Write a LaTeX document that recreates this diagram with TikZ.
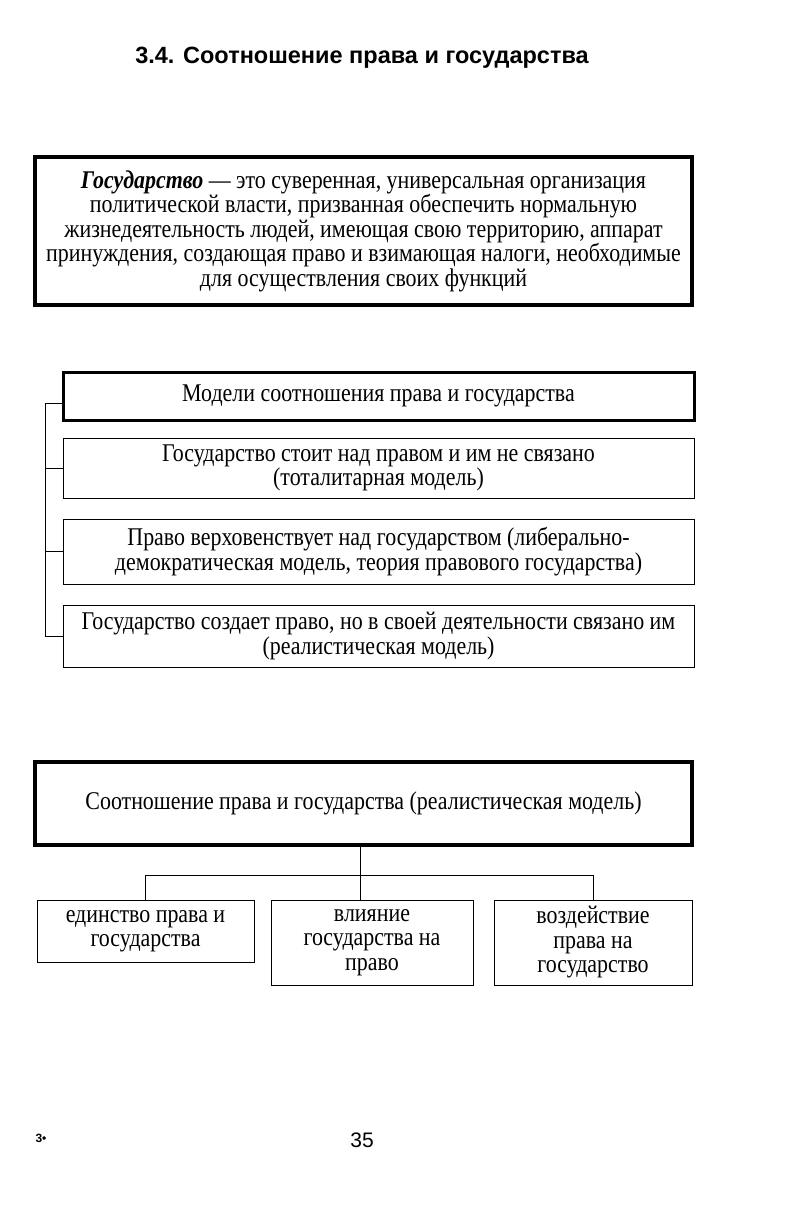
\documentclass[tikz,border=0pt]{standalone}
\usepackage{fontspec}
\setmainfont{Liberation Serif}[FakeStretch=0.86]
\setsansfont{Liberation Sans}
\usetikzlibrary{positioning, calc}

\begin{document}
\begin{tikzpicture}[
  x=1pt, y=-1pt,
  bigbox/.style={rectangle, draw, line width=3.5pt, align=center, inner sep=0pt},
  smallbox/.style={rectangle, draw, line width=0.9pt, align=center, inner sep=0pt},
  link/.style={draw, line width=0.9pt},
  txt/.style={font=\fontsize{25.5}{24.5}\selectfont}
]
\useasboundingbox (0,0) rectangle (790,1225);

% Heading
\node[font=\sffamily\bfseries\fontsize{23.5}{26}\selectfont] (title) at (362,58) {3.4. Соотношение права и государства};

% Definition
\node[bigbox, txt, minimum width=657pt, minimum height=148pt] (def) at (363.5,231)
  {\textbf{\textit{Государство}} — это суверенная, универсальная организация\\
   политической власти, призванная обеспечить нормальную\\
   жизнедеятельность людей, имеющая свою территорию, аппарат\\
   принуждения, создающая право и взимающая налоги, необходимые\\
   для осуществления своих функций};

% Models
\node[bigbox, line width=3pt, txt, minimum width=631pt, minimum height=48pt] (models) at (378.5,396)
  {Модели соотношения права и государства};
\node[smallbox, txt, minimum width=631pt, minimum height=60pt] (total) at (378.5,468)
  {Государство стоит над правом и им не связано\\(тоталитарная модель)};
\node[smallbox, txt, minimum width=631pt, minimum height=65pt] (liberal) at (378.5,551.5)
  {Право верховенствует над государством (либерально-\\демократическая модель, теория правового государства)};
\node[smallbox, txt, minimum width=631pt, minimum height=62pt] (real) at (378.5,636)
  {Государство создает право, но в своей деятельности связано им\\(реалистическая модель)};

\coordinate (rail) at (45,403);
\draw[link] (models.west |- rail) -- (rail) |- (real.west);
\draw[link] (total.west) -- (total.west -| rail);
\draw[link] (liberal.west) -- (liberal.west -| rail);

% Realistic model
\node[bigbox, txt, minimum width=657pt, minimum height=83pt] (realmod) at (363.5,803.5)
  {Соотношение права и государства (реалистическая модель)};
\node[smallbox, txt, minimum width=217pt, minimum height=62pt] (unity) at (145.5,931)
  {единство права и\\государства};
\node[smallbox, txt, minimum width=202pt, minimum height=85pt] (stateon) at (372,942.5)
  {влияние\\государства на\\право};
\node[smallbox, txt, minimum width=198pt, minimum height=85pt] (lawon) at (593,942.5)
  {воздействие\\права на\\государство};

\coordinate (fork) at (360,875);
\draw[link] (realmod.south -| fork) -- (fork);
\draw[link] (fork -| unity.north) -- (fork -| lawon.north);
\draw[link] (fork -| unity.north) -- (unity.north);
\draw[link] (fork) -- (stateon.north -| fork);
\draw[link] (fork -| lawon.north) -- (lawon.north);

% Page foot
\node[font=\sffamily\bfseries\fontsize{12}{12}\selectfont] (sig) at (41,1138) {3•};
\node[font=\sffamily\fontsize{21}{21}\selectfont] (page) at (362,1140) {35};
\end{tikzpicture}
\end{document}
